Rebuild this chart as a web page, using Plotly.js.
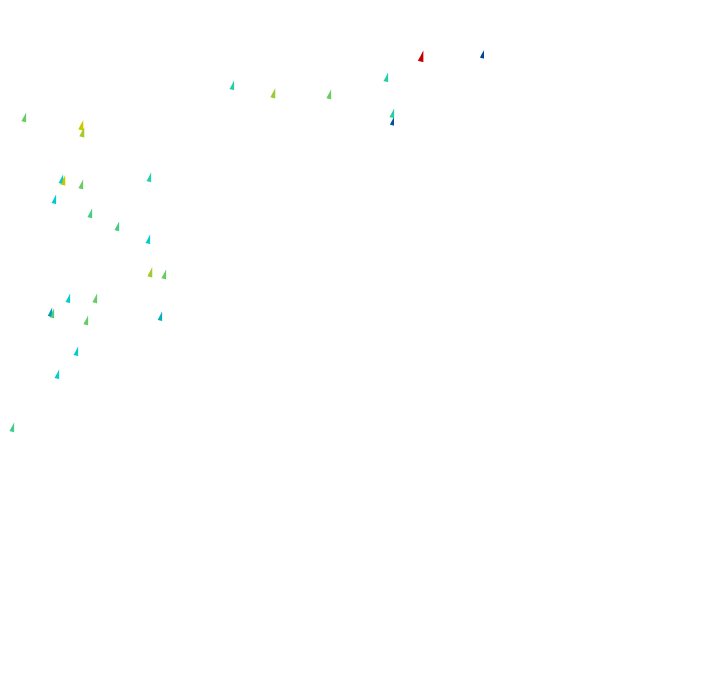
<!DOCTYPE html>
<html><head><meta charset="utf-8">
<script src="https://cdn.plot.ly/plotly-3.0.1.min.js"></script>
<style>html,body{margin:0;padding:0;background:#fff}#chart{width:720px;height:692px}</style>
</head><body><div id="chart"></div>
<script>
// cone positions (horizontal x, vertical z), depth y
const xs = [422,483,233,274,330,387,393,393,25,82,83,62,64,82,150,55,91,118,149,151,165,69,96,51,53,87,161,77,58,13];
const zs = [636,638,607,599,598,615,579,571,575,567,560,513,512,508,515,493,479,466,453,420,418,394,394,380,379,372,376,341,318,265];
const ys = xs.map(()=>0);
// colour level along the scale (0..1) -> norm = 2 + level
const level = [0.88,0.16,0.42,0.56,0.50,0.42,0.42,0.18,0.50,0.63,0.57,0.38,0.63,0.50,0.42,0.37,0.46,0.46,0.38,0.57,0.50,0.38,0.50,0.30,0.47,0.50,0.33,0.38,0.38,0.45];
const lean = xs.map(()=>0.25);
const norm = level.map(l=>2+l);
const u = norm.map((n,i)=>n*lean[i]/Math.hypot(1,lean[i]));
const w = norm.map((n,i)=>n/Math.hypot(1,lean[i]));
const v = norm.map(()=>0);
const data = [{
  type:'cone', x:xs, y:ys, z:zs, u:u, v:v, w:w,
  colorscale:'Jet', cmin:2, cmax:3, showscale:false,
  sizemode:'absolute', sizeref:15, anchor:'center'
}];
const ax = {visible:false, showgrid:false, zeroline:false, showbackground:false, showspikes:false};
const layout = {
  width:720, height:692, margin:{l:0,r:0,t:0,b:0}, showlegend:false,
  paper_bgcolor:'#fff',
  scene:{
    domain:{x:[0,1],y:[0,1]},
    xaxis:Object.assign({range:[0,720]},ax),
    yaxis:Object.assign({range:[-346,346]},ax),
    zaxis:Object.assign({range:[0,692]},ax),
    aspectmode:'manual', aspectratio:{x:2.081,y:2.0,z:2.0},
    camera:{projection:{type:'orthographic'}, eye:{x:0,y:-4,z:0}, up:{x:0,y:0,z:1}, center:{x:0,y:0,z:0}}
  }
};
Plotly.newPlot('chart', data, layout, {displayModeBar:false});
</script></body></html>
